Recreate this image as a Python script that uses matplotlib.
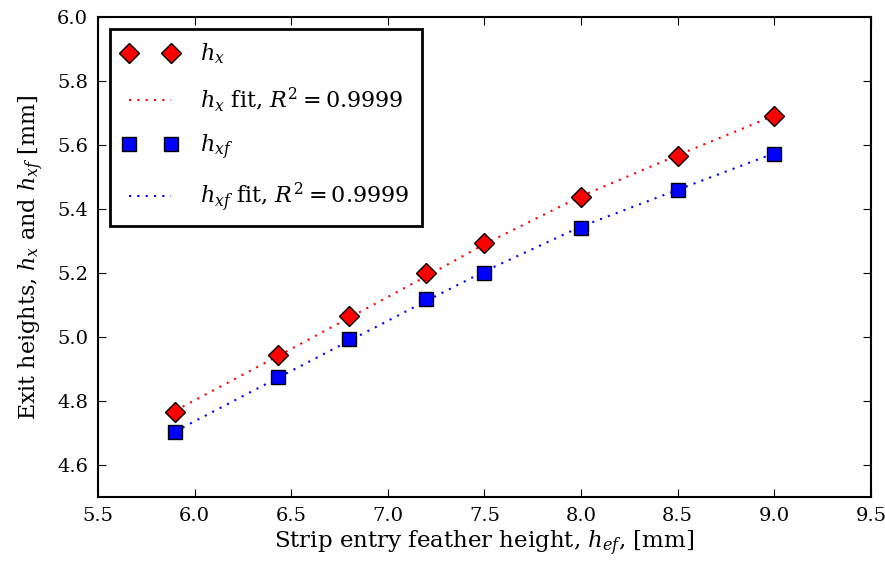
import matplotlib
matplotlib.use("Agg")
import matplotlib.pyplot as plt

# data
h_ef = [5.9, 6.43, 6.8, 7.2, 7.5, 8.0, 8.5, 9.0]
h_x = [4.766, 4.944, 5.066, 5.200, 5.294, 5.438, 5.566, 5.690]
h_xf = [4.703, 4.875, 4.994, 5.119, 5.200, 5.341, 5.459, 5.572]
h_x_fit = [4.770, 4.940, 5.060, 5.190, 5.290, 5.440, 5.568, 5.692]
h_xf_fit = [4.705, 4.872, 4.988, 5.113, 5.205, 5.345, 5.460, 5.574]

xticks = [5.5, 6.0, 6.5, 7.0, 7.5, 8.0, 8.5, 9.0, 9.5]
yticks = [4.6, 4.8, 5.0, 5.2, 5.4, 5.6, 5.8, 6.0]

plt.rcParams['font.family'] = ['DejaVu Serif']
plt.rcParams['mathtext.fontset'] = 'dejavuserif'
plt.rcParams['axes.linewidth'] = 1.5

fig = plt.figure(figsize=(8.85, 5.64), dpi=100)
ax = fig.add_axes([0.1107, 0.1188, 0.8733, 0.8511])

dots = (0, (1, 3))
ax.plot(h_ef, h_x, 'D', color='red', mec='black', mew=1.0, ms=10.5,
        label='$h_x$', zorder=3)
ax.plot(h_ef, h_x_fit, color='red', ls=dots, lw=1.5,
        label='$h_x$ fit, $R^2=$0.9999')
ax.plot(h_ef, h_xf, 's', color='blue', mec='black', mew=1.0, ms=10.5,
        label='$h_{xf}$', zorder=3)
ax.plot(h_ef, h_xf_fit, color='blue', ls=dots, lw=1.5,
        label='$h_{xf}$ fit, $R^2=$0.9999')

ax.set_xlim(5.5, 9.5)
ax.set_ylim(4.5, 6.0)
ax.set_xticks(xticks)
ax.set_yticks(yticks)
ax.set_xticklabels(['%.1f' % v for v in xticks])
ax.set_yticklabels(['%.1f' % v for v in yticks])
ax.tick_params(direction='in', length=6, width=0.8, top=True, right=True,
               labelsize=14, pad=7)

ax.set_xlabel('Strip entry feather height, $h_{ef}$, [mm]', fontsize=16.5, labelpad=3)
ax.set_ylabel('Exit heights, $h_x$ and $h_{xf}$ [mm]', fontsize=16, labelpad=8)

leg = ax.legend(loc='upper left', numpoints=2, fontsize=16, fancybox=False,
                handlelength=2.5, handletextpad=1.0, labelspacing=0.85,
                borderpad=0.55, borderaxespad=0.55, framealpha=1.0)
leg.get_frame().set_edgecolor('black')
leg.get_frame().set_linewidth(2.0)

fig.savefig('out.png', dpi=100)
